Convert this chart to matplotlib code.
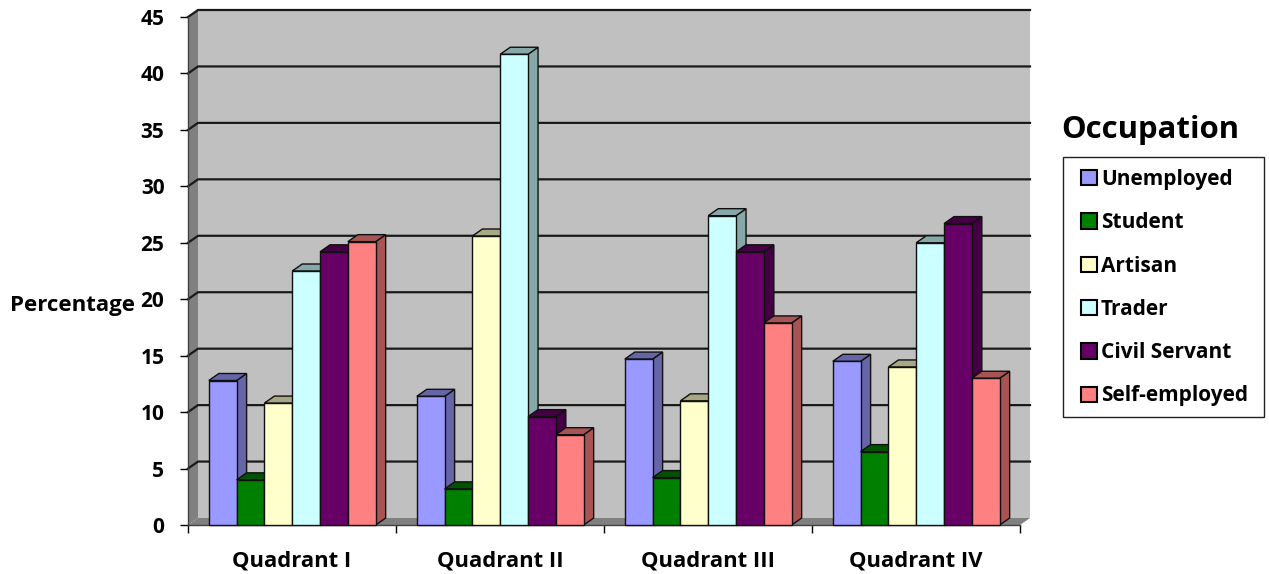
from matplotlib import pyplot as plt
from matplotlib.patches import Patch, Polygon, Rectangle
from matplotlib.colors import to_rgb
import numpy as np

plt.rcParams['font.family'] = ['Open Sans', 'DejaVu Sans']
plt.rcParams['font.weight'] = 'bold'

quadrants = ["Quadrant I", "Quadrant II", "Quadrant III", "Quadrant IV"]
occupations = ["Unemployed", "Student", "Artisan", "Trader", "Civil Servant", "Self-employed"]
colors = ["#9999FF", "#008000", "#FFFFCC", "#CCFFFF", "#660066", "#FF8080"]

unemployed = [12.8, 11.4, 14.7, 14.5]
student = [4.0, 3.2, 4.2, 6.5]
artisan = [10.8, 25.6, 11.0, 14.0]
trader = [22.5, 41.7, 27.4, 25.0]
civil_servant = [24.2, 9.6, 24.2, 26.7]
self_employed = [25.1, 8.0, 17.9, 13.0]
series = [unemployed, student, artisan, trader, civil_servant, self_employed]

yticks = np.arange(0, 50, 5)

W, H = 1269, 574
fig = plt.figure(figsize=(W / 100, H / 100), dpi=100)
ax = fig.add_axes([188 / W, (H - 525) / H, 832 / W, 508 / H])
ax.set_xlim(0, 4)
ax.set_ylim(0, 45)

# fake 3d depth, in data units
dx = 10 / 208
dy = 7 / (508 / 45)
bar_w = 0.1337
gap = 0.1


def shade(color, f=0.66):
    return tuple(c * f for c in to_rgb(color))


def poly(pts, color, z, ec="#101010", lw=1.0):
    ax.add_patch(Polygon(pts, closed=True, fc=color, ec=ec, lw=lw, zorder=z, clip_on=False))


# walls and floor
ax.add_patch(Rectangle((dx, dy), 4, 45, fc="#C0C0C0", ec="none", zorder=1, clip_on=False))
poly([(0, 0), (dx, dy), (dx, 45 + dy), (0, 45)], "#808080", 1, ec="none")
poly([(0, 0), (dx, dy), (4 + dx, dy), (4, 0)], "#808080", 1, ec="none")

# gridlines on the back wall and left wall
for v in yticks[1:]:
    ax.plot([0, dx, 4 + dx], [v, v + dy, v + dy], color="#1a1a1a", lw=1.6, zorder=2, clip_on=False)

# bars, left to right so each one covers the side of the one before
z = 3
for i in range(len(quadrants)):
    for j, vals in enumerate(series):
        x0 = i + gap + j * bar_w
        x1 = x0 + bar_w
        v = vals[i]
        c = colors[j]
        poly([(x1, 0), (x1 + dx, dy), (x1 + dx, v + dy), (x1, v)], shade(c), z)
        poly([(x0, v), (x0 + dx, v + dy), (x1 + dx, v + dy), (x1, v)], shade(c), z)
        poly([(x0, 0), (x1, 0), (x1, v), (x0, v)], c, z + 0.5)
        z += 1

for s in ["top", "right"]:
    ax.spines[s].set_visible(False)
for s in ["left", "bottom"]:
    ax.spines[s].set_color("#404040")
    ax.spines[s].set_linewidth(1.0)

ax.set_yticks(yticks)
ax.set_xticks(np.arange(5))
ax.set_xticklabels([])
ax.set_xticks(np.arange(4) + 0.5, quadrants, minor=True)
ax.tick_params(axis="x", which="minor", length=0, pad=18, labelsize=15.8)
ax.tick_params(axis="x", which="major", length=6, width=1, direction="out")
ax.tick_params(axis="y", length=6, width=1, pad=11, labelsize=15)

fig.text(10 / W, 1 - 305 / H, "Percentage", fontsize=16, va="center", ha="left")
fig.text(1061 / W, 1 - 130 / H, "Occupation", fontsize=22.4, va="center", ha="left")

# legend frame is drawn apart so the row padding can differ from the side padding
fig.add_artist(Rectangle((1063 / W, 1 - 417 / H), 201 / W, 260 / H, transform=fig.transFigure,
                         fc="white", ec="#202020", lw=1.0))
handles = [Patch(fc=c, ec="black", lw=1.5) for c in colors]
fig.legend(handles, occupations, loc="upper left", bbox_to_anchor=(1081 / W, 1 - 169 / H),
           frameon=False, fontsize=15, handlelength=0.75, handleheight=0.75,
           handletextpad=0.2, labelspacing=1.07, borderpad=0, borderaxespad=0)

fig.savefig("out.png", dpi=100)
